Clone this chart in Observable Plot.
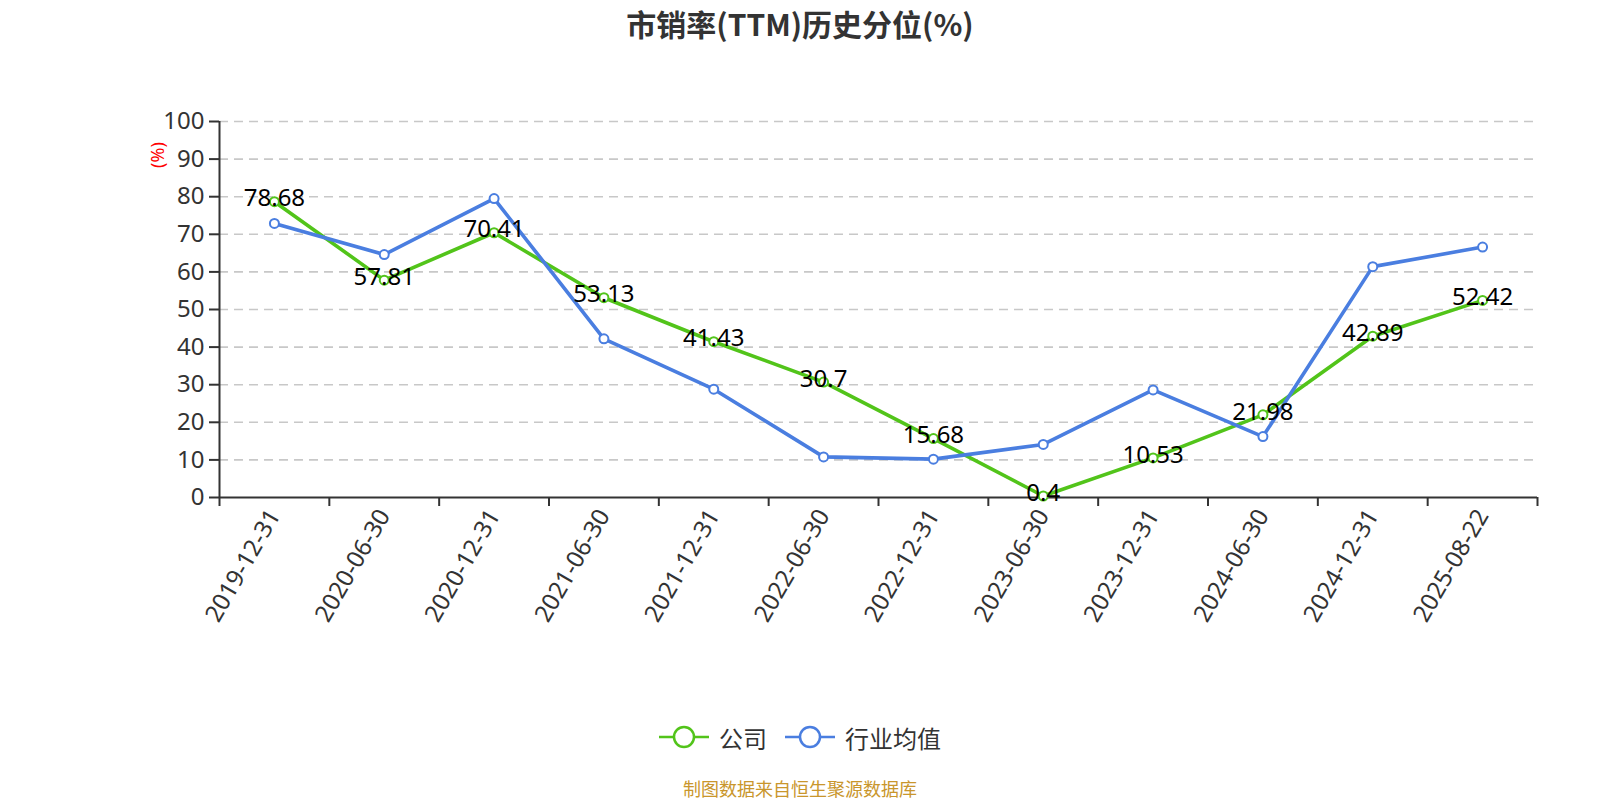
<!DOCTYPE html>
<html>
<head>
<meta charset="utf-8">
<script src="https://cdn.jsdelivr.net/npm/d3@7"></script>
<script src="https://cdn.jsdelivr.net/npm/@observablehq/plot@0.6"></script>
<style>
  html, body { margin: 0; padding: 0; background: #fff; }
  body { font-family: "Noto Sans", "Noto Sans CJK SC", sans-serif; }
  #wrap { position: relative; width: 1600px; height: 800px; overflow: hidden; }
  #title { position: absolute; left: 0; top: 0; width: 1600px; height: 46px; line-height: 46px; text-align: center;
           font-size: 30px; font-weight: bold; color: #333; font-family: "Noto Sans CJK SC", "Noto Sans", sans-serif; }
  #chart { position: absolute; left: 0; top: 46px; }
  #ylabel { position: absolute; left: 157px; top: 155px; transform: translate(-50%, -50%) rotate(-90deg);
            color: #ff0000; font-size: 18px; white-space: nowrap; }
  #legend { position: absolute; left: 0; top: 717px; width: 1600px; height: 40px; display: flex; justify-content: center;
            align-items: center; font-family: "Noto Sans CJK SC", sans-serif; font-size: 24px; color: #333; }
  .item { display: flex; align-items: center; margin: 0 9px; }
  .item svg { margin-right: 10px; }
  #footer { position: absolute; left: 0; top: 776px; width: 1600px; text-align: center; font-size: 18px;
            color: #c9962c; font-family: "Noto Sans CJK SC", sans-serif; line-height: 24px; }
</style>
</head>
<body>
<div id="wrap">
  <div id="title">市销率(TTM)历史分位(%)</div>
  <div id="chart"></div>
  <div id="ylabel">(%)</div>
  <div id="legend"></div>
  <div id="footer">制图数据来自恒生聚源数据库</div>
</div>
<script>
const dates = ["2019-12-31","2020-06-30","2020-12-31","2021-06-30","2021-12-31","2022-06-30",
               "2022-12-31","2023-06-30","2023-12-31","2024-06-30","2024-12-31","2025-08-22"];
const company = [78.68, 57.81, 70.41, 53.13, 41.43, 30.7, 15.68, 0.4, 10.53, 21.98, 42.89, 52.42];
const industry = [72.9, 64.6, 79.5, 42.2, 28.8, 10.8, 10.2, 14.1, 28.6, 16.2, 61.4, 66.6];
const seriesNames = ["公司", "行业均值"];
const seriesColors = ["#52c41a", "#4a7ee0"];
const yTicks = [0, 10, 20, 30, 40, 50, 60, 70, 80, 90, 100];

const rows = [];
dates.forEach((d, i) => {
  rows.push({i, date: d, series: seriesNames[0], value: company[i]});
  rows.push({i, date: d, series: seriesNames[1], value: industry[i]});
});
const companyRows = rows.filter(r => r.series === seriesNames[0]);

const chart = Plot.plot({
  width: 1600,
  height: 640,
  marginLeft: 219,
  marginRight: 63,
  marginTop: 75,
  marginBottom: 189,
  style: {fontFamily: '"Noto Sans", "Noto Sans CJK SC", sans-serif', fontSize: "24px", color: "#333", background: "transparent", overflow: "visible"},
  x: {type: "linear", domain: [-0.5, dates.length - 0.5]},
  y: {domain: [0, 100]},
  color: {domain: seriesNames, range: seriesColors},
  marks: [
    Plot.gridY(yTicks.filter(t => t > 0), {stroke: "#c8c8c8", strokeOpacity: 1, strokeDasharray: "9,6", strokeWidth: 1.6}),
    Plot.axisY({ticks: yTicks, tickSize: 10, tickPadding: 5, label: null, fontSize: 24, stroke: "#333", strokeWidth: 2}),
    Plot.ruleX([-0.5], {stroke: "#333", strokeWidth: 2}),
    Plot.ruleY([0], {stroke: "#333", strokeWidth: 2}),
    Plot.axisX({ticks: d3.range(dates.length + 1).map(k => k - 0.5), tickSize: 9, tickFormat: () => "", label: null, stroke: "#333", strokeWidth: 2}),
    Plot.axisX({ticks: d3.range(dates.length), tickSize: 0, tickPadding: 14, tickRotate: -60, tickFormat: k => dates[k], label: null, fontSize: 24}),
    Plot.line(rows, {x: "i", y: "value", stroke: "series", z: "series", strokeWidth: 3.6}),
    Plot.dot(rows, {x: "i", y: "value", stroke: "series", fill: "white", r: 4.5, strokeWidth: 2}),
    Plot.text(companyRows, {x: "i", y: "value", text: d => String(d.value), dy: -3, fontSize: 24, fill: "#000"})
  ]
});
document.getElementById("chart").appendChild(chart);

const legend = document.getElementById("legend");
seriesNames.forEach((name, k) => {
  const item = document.createElement("div");
  item.className = "item";
  item.innerHTML = `<svg width="50" height="24" viewBox="0 0 50 24">
      <line x1="0" y1="12" x2="50" y2="12" stroke="${seriesColors[k]}" stroke-width="2.5"/>
      <circle cx="25" cy="12" r="10" fill="white" stroke="${seriesColors[k]}" stroke-width="2.5"/>
    </svg><span>${name}</span>`;
  legend.appendChild(item);
});
</script>
</body>
</html>
